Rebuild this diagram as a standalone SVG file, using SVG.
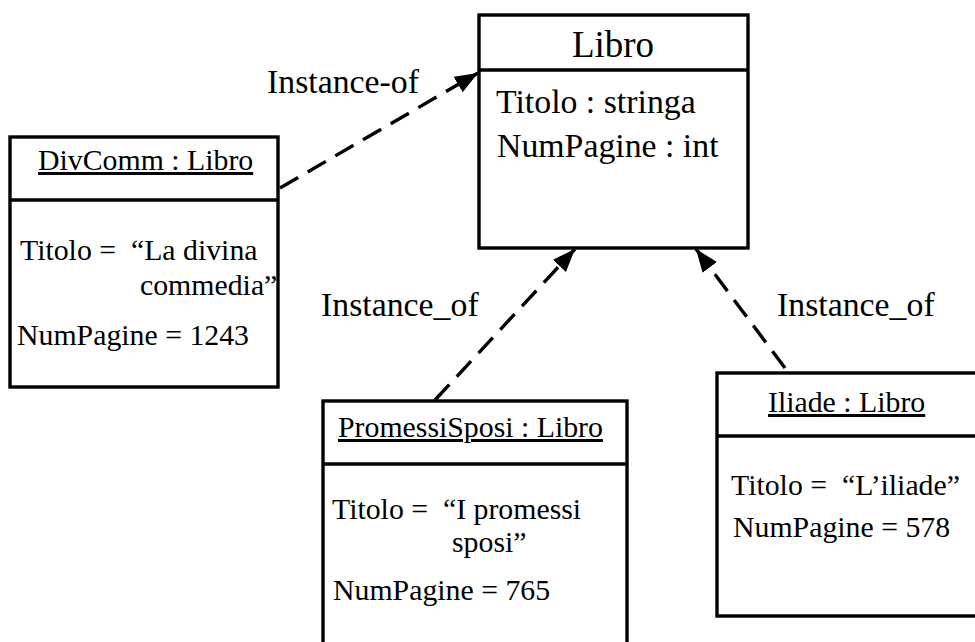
<svg xmlns="http://www.w3.org/2000/svg" width="975" height="642" viewBox="0 0 975 642">
<style>
text{font-family:"Liberation Serif","Times New Roman",serif;fill:#000;white-space:pre}
.box{fill:#fff;stroke:#000;stroke-width:3.4}
.div{stroke:#000;stroke-width:3.4}
.obj{font-size:29.8px}
.big{font-size:33.8px}
.title{font-size:37px}
.u{text-decoration:underline}
.dash{fill:none;stroke:#000;stroke-width:3.4;stroke-dasharray:21 11;marker-end:url(#arr)}
</style>
<defs>
<marker id="arr" markerUnits="userSpaceOnUse" markerWidth="26" markerHeight="20" refX="23" refY="9" orient="auto">
<path d="M0,0 L23,9 L0,18 z" fill="#000"/>
</marker>
</defs>
<rect width="975" height="642" fill="#fff"/>
<g id="connectors">
<line class="dash" x1="280" y1="188" x2="478" y2="73"/>
<line class="dash" x1="435" y1="400" x2="575" y2="249"/>
<line class="dash" x1="785" y1="368" x2="696" y2="249"/>
<text class="big" x="267" y="93">Instance-of</text>
<text class="big" x="321" y="316">Instance_of</text>
<text class="big" x="777" y="316">Instance_of</text>
</g>
<g id="libro">
<rect class="box" x="479" y="15" width="269" height="233"/>
<line class="div" x1="479" y1="70" x2="748" y2="70"/>
<text class="title" x="613" y="57" text-anchor="middle">Libro</text>
<text class="big" x="496" y="113">Titolo : stringa</text>
<text class="big" x="497" y="157">NumPagine : int</text>
</g>
<g id="divcomm">
<rect class="box" x="10" y="137" width="268" height="250"/>
<line class="div" x1="10" y1="200" x2="278" y2="200"/>
<text class="obj u" x="38" y="170">DivComm : Libro</text>
<text class="obj" x="20" y="260">Titolo =  “La divina</text>
<text class="obj" x="140" y="295">commedia”</text>
<text class="obj" x="17" y="345">NumPagine = 1243</text>
</g>
<g id="promessisposi">
<rect class="box" x="323" y="401" width="304" height="260"/>
<line class="div" x1="323" y1="464" x2="627" y2="464"/>
<text class="obj u" x="338" y="437">PromessiSposi : Libro</text>
<text class="obj" x="332" y="519">Titolo =  “I promessi</text>
<text class="obj" x="452" y="552">sposi”</text>
<text class="obj" x="333" y="600">NumPagine = 765</text>
</g>
<g id="iliade">
<rect class="box" x="717" y="373" width="270" height="243"/>
<line class="div" x1="717" y1="436" x2="987" y2="436"/>
<text class="obj u" x="768" y="412">Iliade : Libro</text>
<text class="obj" x="731" y="495">Titolo =  “L’iliade”</text>
<text class="obj" x="733" y="537">NumPagine = 578</text>
</g>
</svg>
